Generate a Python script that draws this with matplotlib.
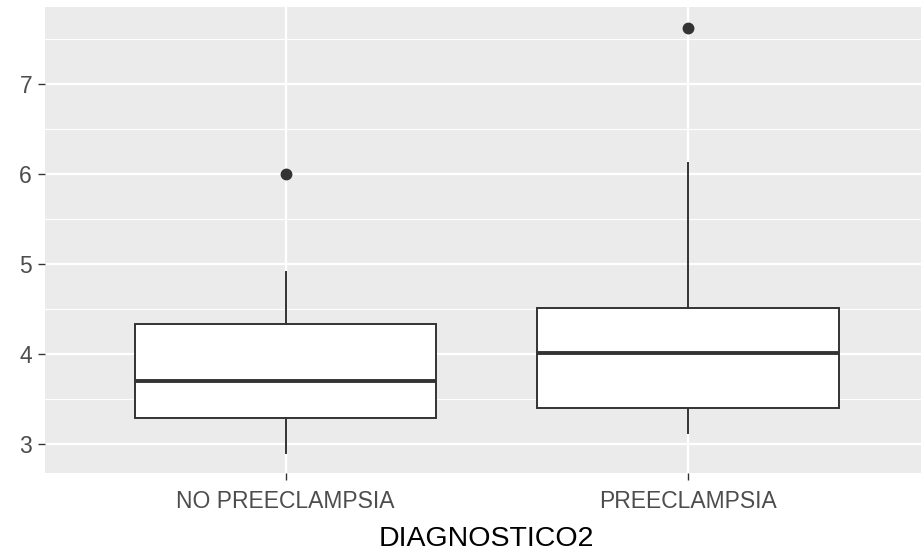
import matplotlib
matplotlib.use("Agg")
import matplotlib.pyplot as plt
from matplotlib.ticker import MultipleLocator

categories = ["NO PREECLAMPSIA", "PREECLAMPSIA"]
whisker_low = [2.90, 3.12]
q1 = [3.29, 3.40]
median = [3.70, 4.01]
q3 = [4.33, 4.51]
whisker_high = [4.91, 6.12]
outliers = [[6.0], [7.62]]
y_ticks = [3, 4, 5, 6, 7]

plt.rcParams['font.family'] = ['Liberation Sans', 'DejaVu Sans']

fig = plt.figure(figsize=(9.21, 5.55), dpi=100)
ax = fig.add_axes([44.5 / 921, (555 - 473) / 555, (929 - 44.5) / 921, (473 - 7) / 555])
ax.set_facecolor('#EBEBEB')

stats = []
for i in range(len(categories)):
    stats.append(dict(med=median[i], q1=q1[i], q3=q3[i], whislo=whisker_low[i],
                      whishi=whisker_high[i], fliers=outliers[i], label=categories[i]))

pos = list(range(1, len(categories) + 1))
ax.bxp(stats, positions=pos, widths=0.75, showcaps=False, patch_artist=True,
       boxprops=dict(facecolor='white', edgecolor='#333333', linewidth=1.4),
       whiskerprops=dict(color='#333333', linewidth=1.4),
       medianprops=dict(color='#333333', linewidth=2.8),
       flierprops=dict(marker='o', markerfacecolor='#333333', markeredgecolor='#333333',
                       markersize=7.5), zorder=3)

ax.set_xlim(0.4, 2.6)
ax.set_ylim(2.678, 7.856)
ax.set_yticks(y_ticks)
ax.yaxis.set_minor_locator(MultipleLocator(0.5))
ax.set_xticks(pos)
ax.set_xticklabels(categories)

ax.grid(which='major', color='white', linewidth=1.6, zorder=0)
ax.grid(which='minor', axis='y', color='white', linewidth=0.8, zorder=0)
ax.set_axisbelow(True)
for s in ax.spines.values():
    s.set_visible(False)

ax.tick_params(axis='both', which='major', length=5, width=1.0, color='#333333',
               labelcolor='#4D4D4D', labelsize=16.5, pad=4)
ax.tick_params(axis='x', which='major', pad=7.5)
ax.tick_params(axis='both', which='minor', length=0)
ax.set_xlabel('DIAGNOSTICO2', fontsize=20.5, color='black', labelpad=9)

fig.savefig('out.png', dpi=100)
